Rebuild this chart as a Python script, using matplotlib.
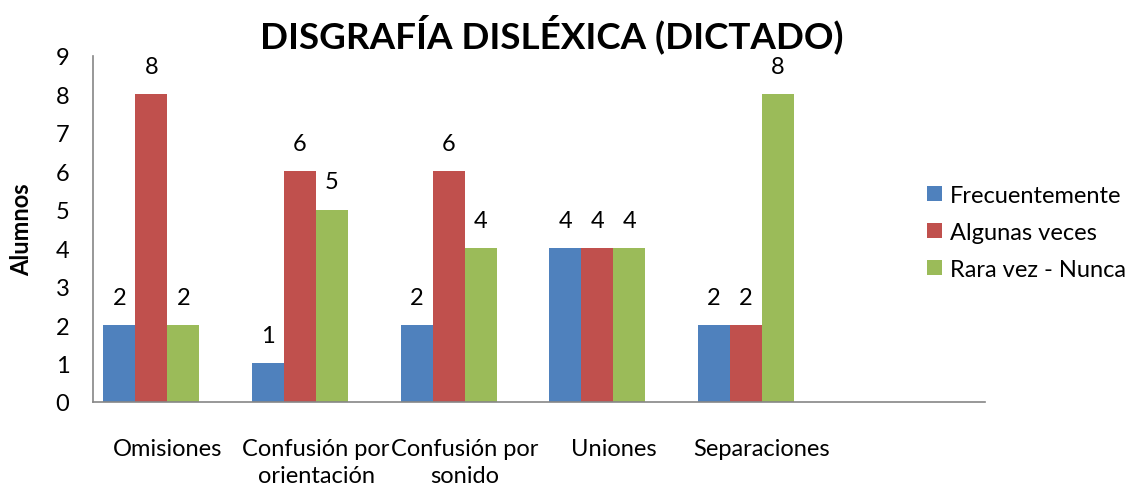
import numpy as np
import matplotlib
matplotlib.use("Agg")
import matplotlib.pyplot as plt

plt.rcParams['font.family'] = ['Lato', 'DejaVu Sans']

categorias = ["Omisiones", "Confusión por\norientación", "Confusión por\nsonido", "Uniones", "Separaciones", ""]
series = ["Frecuentemente", "Algunas veces", "Rara vez - Nunca"]
frecuentemente = [2, 1, 2, 4, 2]
algunas_veces = [8, 6, 6, 4, 2]
rara_vez = [2, 5, 4, 4, 8]
colores = ["#4F81BD", "#C0504D", "#9BBB59"]

fig = plt.figure(figsize=(11.37, 4.89), dpi=100)
ax = fig.add_axes([0.0818, 0.176, 0.7845, 0.7075])

ancho = 0.215
x = np.arange(5)
for i, (nombre, vals) in enumerate(zip(series, [frecuentemente, algunas_veces, rara_vez])):
    pos = x - 1.5 * ancho + i * ancho
    ax.bar(pos, vals, ancho, color=colores[i], label=nombre)
    for p, v in zip(pos, vals):
        ax.annotate(str(v), (p, v), xytext=(0, 20), textcoords="offset points",
                    ha="center", va="center", fontsize=17)

ax.set_xlim(-0.5, 5.5)
ax.set_ylim(0, 9)
ax.set_yticks(range(10))
ax.set_xticks(range(6))
ax.set_xticklabels(categorias, fontsize=17, linespacing=1.35)
ax.tick_params(axis="both", length=0, labelsize=17)
ax.tick_params(axis="x", pad=26)
ax.tick_params(axis="y", pad=17)
for s in ["top", "right"]:
    ax.spines[s].set_visible(False)
for s in ["left", "bottom"]:
    ax.spines[s].set_color("#868686")
    ax.spines[s].set_linewidth(1.2)

ax.set_ylabel("Alumnos", fontsize=17, fontweight="bold", labelpad=16)
fig.text(0.485, 0.93, "DISGRAFÍA DISLÉXICA (DICTADO)", ha="center", va="center",
         fontsize=26.5, fontweight="bold")

leg = fig.legend(loc="center left", bbox_to_anchor=(0.797, 0.523), frameon=False,
                 fontsize=17, handlelength=0.6, handleheight=0.6, handletextpad=0.35,
                 labelspacing=0.68)

fig.savefig("out.png", dpi=100)
